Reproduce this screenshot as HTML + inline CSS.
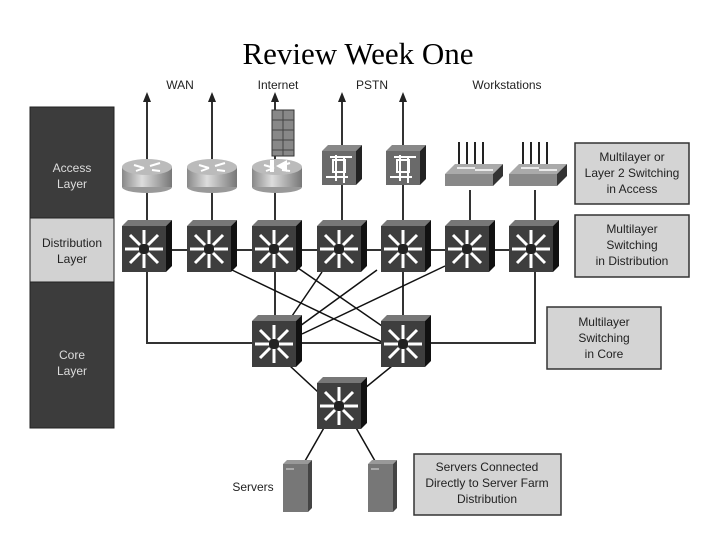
<!DOCTYPE html>
<html><head><meta charset="utf-8"><style>
html,body{margin:0;padding:0;background:#fff;}
svg{display:block}
text{font-family:"Liberation Sans",sans-serif;}
</style></head><body>
<svg width="720" height="540" viewBox="0 0 720 540" xmlns="http://www.w3.org/2000/svg">
<defs>
<g id="sw">
<polygon points="0,6 6,0 50,0 44,6" fill="#777"/>
<polygon points="44,6 50,0 50,46 44,52" fill="#111"/>
<rect x="0" y="6" width="44" height="46" fill="#3e3e3e"/>
<g stroke="#fff" stroke-width="3" fill="none">
<line x1="22" y1="24" x2="22" y2="10"/><line x1="22" y1="34" x2="22" y2="48"/>
<line x1="17" y1="29" x2="3" y2="29"/><line x1="27" y1="29" x2="41" y2="29"/>
<line x1="18" y1="25" x2="8" y2="15"/><line x1="26" y1="25" x2="36" y2="15"/>
<line x1="18" y1="33" x2="8" y2="43"/><line x1="26" y1="33" x2="36" y2="43"/>
</g>
<circle cx="22" cy="29" r="5" fill="#222"/>
</g>
<linearGradient id="rg" x1="0" x2="1"><stop offset="0" stop-color="#888"/><stop offset="0.4" stop-color="#ddd"/><stop offset="1" stop-color="#777"/></linearGradient>
<g id="rt">
<ellipse cx="25" cy="30" rx="25" ry="6" fill="#999"/>
<rect x="0" y="10" width="50" height="20" fill="url(#rg)"/>
<ellipse cx="25" cy="10" rx="25" ry="8" fill="#bbb"/>
<g stroke="#fff" stroke-width="2"><line x1="12" y1="8" x2="22" y2="11"/><line x1="28" y1="9" x2="38" y2="6"/><line x1="14" y1="14" x2="22" y2="11"/><line x1="30" y1="13" x2="38" y2="14"/></g>
</g>
<g id="px">
<polygon points="0,6 6,0 40,0 34,6" fill="#888"/>
<polygon points="34,6 40,0 40,34 34,40" fill="#222"/>
<rect x="0" y="6" width="34" height="34" fill="#6a6a6a"/>
<g stroke="#fff" stroke-width="2" fill="none"><rect x="11" y="15" width="12" height="12"/><line x1="8" y1="12" x2="30" y2="12"/><line x1="14" y1="10" x2="14" y2="36"/><line x1="4" y1="32" x2="26" y2="32"/><line x1="22" y1="12" x2="22" y2="38"/></g>
</g>
<g id="ws">
<g stroke="#222" stroke-width="2"><line x1="14" y1="0" x2="14" y2="22"/><line x1="22" y1="0" x2="22" y2="22"/><line x1="30" y1="0" x2="30" y2="22"/><line x1="38" y1="0" x2="38" y2="22"/></g>
<polygon points="0,32 10,22 58,22 48,32" fill="#aaa"/>
<polygon points="48,32 58,22 58,34 48,44" fill="#333"/>
<rect x="0" y="32" width="48" height="12" fill="#888"/>
<g stroke="#fff" stroke-width="1.5"><line x1="12" y1="26" x2="30" y2="26"/><line x1="30" y1="28" x2="48" y2="28"/></g>
</g>
<g id="srv">
<polygon points="0,4 4,0 29,0 25,4" fill="#999"/>
<polygon points="25,4 29,0 29,48 25,52" fill="#444"/>
<rect x="0" y="4" width="25" height="48" fill="#777"/>
<rect x="3" y="8" width="8" height="2" fill="#aaa"/>
</g>
</defs>

<text x="358" y="64" text-anchor="middle" style="font-family:'Liberation Serif',serif" font-size="31" fill="#000">Review Week One</text>

<g font-size="12" fill="#222" text-anchor="middle">
<text x="180" y="89">WAN</text><text x="278" y="89">Internet</text><text x="372" y="89">PSTN</text><text x="507" y="89">Workstations</text>
</g>

<!-- left bar -->
<rect x="30" y="107" width="84" height="321" fill="#3c3c3c" stroke="#222"/>
<rect x="30" y="218" width="84" height="64" fill="#d2d2d2" stroke="#222"/>
<g font-size="12" text-anchor="middle">
<text x="72" y="172" fill="#ddd">Access</text><text x="72" y="188" fill="#ddd">Layer</text>
<text x="72" y="247" fill="#222">Distribution</text><text x="72" y="263" fill="#222">Layer</text>
<text x="72" y="359" fill="#ddd">Core</text><text x="72" y="375" fill="#ddd">Layer</text>
</g>

<!-- lines -->
<g stroke="#333" stroke-width="2" fill="none">
<line x1="147" y1="225" x2="147" y2="98"/>
<line x1="212" y1="225" x2="212" y2="98"/>
<line x1="275" y1="225" x2="275" y2="98"/>
<line x1="342" y1="225" x2="342" y2="98"/>
<line x1="403" y1="225" x2="403" y2="98"/>
<line x1="470" y1="225" x2="470" y2="190"/>
<line x1="535" y1="225" x2="535" y2="190"/>
<line x1="147" y1="250" x2="535" y2="250"/>
<polyline points="147,270 147,343 535,343 535,270"/>
<line x1="275" y1="270" x2="275" y2="320"/>
<line x1="403" y1="270" x2="403" y2="320"/>
</g>
<g fill="#222">
<polygon points="143,102 147,92 151,102"/>
<polygon points="208,102 212,92 216,102"/>
<polygon points="271,102 275,92 279,102"/>
<polygon points="338,102 342,92 346,102"/>
<polygon points="399,102 403,92 407,102"/>
</g>
<g stroke="#111" stroke-width="1.5">
<line x1="232" y1="270" x2="382" y2="342"/>
<line x1="298" y1="268" x2="382" y2="326"/>
<line x1="322" y1="272" x2="292" y2="316"/>
<line x1="377" y1="270" x2="300" y2="326"/>
<line x1="445" y1="266" x2="302" y2="334"/>
<line x1="290" y1="366" x2="318" y2="392"/>
<line x1="392" y1="366" x2="365" y2="388"/>
<line x1="325" y1="426" x2="305" y2="461"/>
<line x1="355" y1="426" x2="375" y2="461"/>
</g>

<!-- access devices -->
<use href="#rt" x="122" y="157"/>
<use href="#rt" x="187" y="157"/>
<g>
<rect x="272" y="110" width="22" height="46" fill="#888" stroke="#333"/>
<g stroke="#444" stroke-width="1"><line x1="272" y1="120" x2="294" y2="120"/><line x1="272" y1="130" x2="294" y2="130"/><line x1="272" y1="140" x2="294" y2="140"/><line x1="272" y1="150" x2="294" y2="150"/><line x1="283" y1="110" x2="283" y2="156"/></g>
<use href="#rt" x="252" y="157"/>
<rect x="270" y="160" width="4" height="12" fill="#fff"/><polygon points="287,160 276,166 287,172" fill="#fff"/>
</g>
<use href="#px" x="322" y="145"/>
<use href="#px" x="386" y="145"/>
<use href="#ws" x="445" y="142"/>
<use href="#ws" x="509" y="142"/>

<!-- dist switches -->
<use href="#sw" x="122" y="220"/>
<use href="#sw" x="187" y="220"/>
<use href="#sw" x="252" y="220"/>
<use href="#sw" x="317" y="220"/>
<use href="#sw" x="381" y="220"/>
<use href="#sw" x="445" y="220"/>
<use href="#sw" x="509" y="220"/>
<!-- core -->
<use href="#sw" x="252" y="315"/>
<use href="#sw" x="381" y="315"/>
<use href="#sw" x="317" y="377"/>
<!-- servers -->
<use href="#srv" x="283" y="460"/>
<use href="#srv" x="368" y="460"/>
<text x="253" y="491" font-size="12" fill="#222" text-anchor="middle">Servers</text>

<!-- boxes -->
<g fill="#d4d4d4" stroke="#333" stroke-width="1.5">
<rect x="575" y="143" width="114" height="61"/>
<rect x="575" y="215" width="114" height="62"/>
<rect x="547" y="307" width="114" height="62"/>
<rect x="414" y="454" width="147" height="61"/>
</g>
<g font-size="12" fill="#222" text-anchor="middle">
<text x="632" y="161">Multilayer or</text><text x="632" y="177">Layer 2 Switching</text><text x="632" y="193">in Access</text>
<text x="632" y="233">Multilayer</text><text x="632" y="249">Switching</text><text x="632" y="265">in Distribution</text>
<text x="604" y="326">Multilayer</text><text x="604" y="342">Switching</text><text x="604" y="358">in Core</text>
<text x="487" y="471">Servers Connected</text><text x="487" y="487">Directly to Server Farm</text><text x="487" y="503">Distribution</text>
</g>
</svg>
</body></html>
